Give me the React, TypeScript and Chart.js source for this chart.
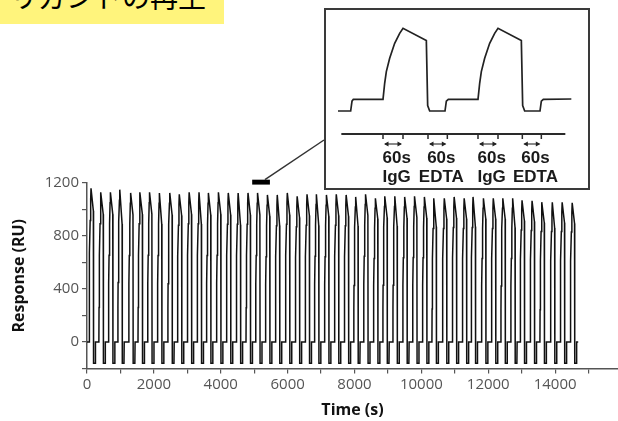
import React, { useEffect, useRef } from "react";
import { Chart, registerables } from "chart.js";

Chart.register(...registerables);

// ---------- text ----------
const headerText = "リガンドの再生";
const xTitle = "Time (s)";
const yTitle = "Response (RU)";

// ---------- axes ----------
const xTickValues = [0, 1000, 2000, 3000, 4000, 5000, 6000, 7000, 8000, 9000, 10000, 11000, 12000, 13000, 14000, 15000];
const xLabelledTicks = [0, 2000, 4000, 6000, 8000, 10000, 12000, 14000];
const yTickValues = [-200, 0, 200, 400, 600, 800, 1000, 1200];
const yLabelledTicks = [0, 400, 800, 1200];
const xMin = 0;
const xMax = 15880;
const yMin = -200;
const yMax = 1200;

// ---------- main sensorgram: one entry per regeneration cycle ----------
const cyclePeakTimes = [
  120, 415, 700, 980, 1305, 1585, 1870, 2165, 2475, 2760,
  3055, 3350, 3630, 3930, 4225, 4520, 4815, 5100, 5395, 5690,
  5990, 6285, 6580, 6860, 7160, 7455, 7750, 8035, 8330, 8625,
  8905, 9205, 9500, 9795, 10090, 10375, 10685, 10980, 11280, 11545,
  11855, 12150, 12435, 12730, 13010, 13310, 13605, 13915, 14210, 14510,
];
const cyclePeakRU = [
  1160, 1130, 1130, 1150, 1125, 1130, 1130, 1125, 1125, 1115,
  1130, 1130, 1125, 1130, 1125, 1125, 1125, 1125, 1110, 1110,
  1125, 1100, 1115, 1115, 1110, 1115, 1110, 1095, 1115, 1085,
  1100, 1100, 1095, 1100, 1095, 1085, 1085, 1095, 1085, 1095,
  1085, 1085, 1085, 1085, 1070, 1065, 1055, 1055, 1055, 1050,
];
const cycleDissocEndRU = [
  990, 965, 965, 890, 960, 965, 965, 890, 960, 955,
  965, 890, 960, 965, 960, 885, 960, 960, 950, 880,
  960, 940, 955, 880, 950, 955, 950, 875, 955, 930,
  940, 875, 935, 940, 935, 870, 930, 935, 930, 870,
  930, 930, 930, 865, 915, 910, 900, 860, 900, 895,
];
// shape of one cycle (seconds relative to the peak)
const riseOffsets = [-60, -55, -50, -40, -25, -10, 0];
const riseFractions = [0, 0.23, 0.39, 0.58, 0.79, 0.93, 1];
const dissocEndOffset = 70;
const regenStartOffset = 76;
const regenEndOffset = 126;
const baselineReturnOffset = 133;
const baselineRU = 0;
const regenRU = -160;
const runStart = 0;
const runEnd = 14690;
// window shown enlarged in the inset (black bar)
const zoomWindow = [4940, 5470];

// ---------- inset (two cycles, enlarged) ----------
const insetTimes = [0, 38, 42, 46, 135, 140, 145, 155, 170, 185, 195, 265, 269, 275, 321, 325, 331, 420, 425, 430, 440, 455, 470, 480, 550, 554, 560, 606, 610, 616, 700];
const insetRU = [-186, -186, -30, 0, 0, 255, 440, 652, 891, 1050, 1130, 934, -100, -186, -186, -30, 0, 0, 255, 440, 652, 891, 1050, 1130, 934, -100, -186, -186, -30, 0, 5];
const insetPhaseTicks = [[135, 195], [270, 328], [420, 480], [553, 610]];
const insetPhaseLabels = ["IgG", "EDTA", "IgG", "EDTA"];
const insetDurationLabel = "60s";
const insetTimelineRange = [10, 682];

// ---------- layout constants ----------
const W = 618;
const H = 421;
const INSET = { left: 324, top: 8, width: 262, height: 178, border: 2 };

function buildMainPoints() {
  const pts: { x: number; y: number }[] = [{ x: runStart, y: baselineRU }];
  cyclePeakTimes.forEach((tp, i) => {
    riseOffsets.forEach((o, k) => {
      pts.push({ x: tp + o, y: baselineRU + riseFractions[k] * (cyclePeakRU[i] - baselineRU) });
    });
    pts.push({ x: tp + dissocEndOffset, y: cycleDissocEndRU[i] });
    pts.push({ x: tp + regenStartOffset, y: regenRU });
    pts.push({ x: tp + regenEndOffset, y: regenRU });
    pts.push({ x: tp + baselineReturnOffset, y: baselineRU });
  });
  pts.push({ x: runEnd, y: baselineRU });
  return pts;
}

export default function App() {
  const mainRef = useRef<HTMLCanvasElement | null>(null);
  const insetRef = useRef<HTMLCanvasElement | null>(null);

  useEffect(() => {
    if (!mainRef.current || !insetRef.current) return;

    const markerPlugin = {
      id: "markerPlugin",
      afterDraw(chart: any) {
        const { ctx, scales } = chart;
        const x = scales.x;
        const y = scales.y;
        const x0 = x.getPixelForValue(zoomWindow[0]);
        const x1 = x.getPixelForValue(zoomWindow[1]);
        const yTop = y.getPixelForValue(1225);
        const yBot = y.getPixelForValue(1188);
        ctx.save();
        ctx.fillStyle = "#000";
        ctx.fillRect(x0, yTop, x1 - x0, yBot - yTop);
        ctx.strokeStyle = "#333";
        ctx.lineWidth = 1.5;
        ctx.beginPath();
        ctx.moveTo(x0 + (x1 - x0) * 0.72, yTop);
        ctx.lineTo(INSET.left, 140);
        ctx.stroke();
        ctx.restore();
      },
    };

    const main = new Chart(mainRef.current, {
      type: "line",
      data: {
        datasets: [
          {
            data: buildMainPoints(),
            borderColor: "#111",
            borderWidth: 1.5,
            pointRadius: 0,
            tension: 0,
            fill: false,
          },
        ],
      },
      options: {
        animation: false,
        responsive: false,
        maintainAspectRatio: false,
        layout: { padding: { top: 183, right: 0, left: 0, bottom: 0 } },
        plugins: { legend: { display: false }, tooltip: { enabled: false } },
        scales: {
          x: {
            type: "linear",
            min: xMin,
            max: xMax,
            afterBuildTicks: (s: any) => {
              s.ticks = xTickValues.map((v) => ({ value: v }));
            },
            afterFit: (s: any) => {
              s.height = 52.5;
            },
            ticks: {
              autoSkip: false,
              maxRotation: 0,
              color: "#555",
              padding: 2,
              font: { family: "'Open Sans', sans-serif", size: 15 },
              callback: (v: any) => (xLabelledTicks.includes(Number(v)) ? String(v) : ""),
            },
            grid: { drawOnChartArea: false, drawTicks: true, tickLength: 5, color: "#555", lineWidth: 1.2 },
            border: { display: true, color: "#555", width: 1.5 },
            title: {
              display: true,
              text: xTitle,
              color: "#111",
              font: { family: "'Open Sans', sans-serif", size: 16, weight: "bold" },
              padding: { top: 0, bottom: 1 },
            },
          },
          y: {
            type: "linear",
            min: yMin,
            max: yMax,
            afterBuildTicks: (s: any) => {
              s.ticks = yTickValues.map((v) => ({ value: v }));
            },
            afterFit: (s: any) => {
              s.width = 87;
            },
            ticks: {
              autoSkip: false,
              color: "#555",
              padding: 3,
              font: { family: "'Open Sans', sans-serif", size: 15 },
              callback: (v: any) => (yLabelledTicks.includes(Number(v)) ? String(v) : ""),
            },
            grid: { drawOnChartArea: false, drawTicks: true, tickLength: 5, color: "#555", lineWidth: 1.2 },
            border: { display: true, color: "#555", width: 1.5 },
            title: {
              display: true,
              text: yTitle,
              color: "#111",
              font: { family: "'Open Sans', sans-serif", size: 16, weight: "bold" },
              padding: { top: 10, bottom: 0 },
            },
          },
        },
      },
      plugins: [markerPlugin],
    } as any);

    const insetOverlay = {
      id: "insetOverlay",
      afterDatasetsDraw(chart: any) {
        const { ctx } = chart;
        const x = chart.scales.x;
        const lineY = 124;
        const tickLen = 5;
        const arrowY = 134;
        const durY = 148;
        const phaseY = 167;
        const labelShift = 11;
        ctx.save();
        ctx.strokeStyle = "#2a2a2a";
        ctx.lineWidth = 2;
        ctx.beginPath();
        ctx.moveTo(x.getPixelForValue(insetTimelineRange[0]), lineY);
        ctx.lineTo(x.getPixelForValue(insetTimelineRange[1]), lineY);
        ctx.stroke();
        insetPhaseTicks.forEach(([a, b], i) => {
          const xa = x.getPixelForValue(a);
          const xb = x.getPixelForValue(b);
          ctx.strokeStyle = "#2a2a2a";
          ctx.lineWidth = 1.5;
          ctx.beginPath();
          ctx.moveTo(xa, lineY);
          ctx.lineTo(xa, lineY + tickLen);
          ctx.moveTo(xb, lineY);
          ctx.lineTo(xb, lineY + tickLen);
          ctx.stroke();
          ctx.lineWidth = 1.1;
          ctx.beginPath();
          ctx.moveTo(xa + 2, arrowY);
          ctx.lineTo(xb - 2, arrowY);
          ctx.stroke();
          ctx.fillStyle = "#222";
          ctx.beginPath();
          ctx.moveTo(xa + 1, arrowY);
          ctx.lineTo(xa + 5.5, arrowY - 2.5);
          ctx.lineTo(xa + 5.5, arrowY + 2.5);
          ctx.closePath();
          ctx.fill();
          ctx.beginPath();
          ctx.moveTo(xb - 1, arrowY);
          ctx.lineTo(xb - 5.5, arrowY - 2.5);
          ctx.lineTo(xb - 5.5, arrowY + 2.5);
          ctx.closePath();
          ctx.fill();
          const xc = x.getPixelForValue((a + b) / 2 + labelShift);
          ctx.font = "bold 17px 'Liberation Sans', Arial, sans-serif";
          ctx.textAlign = "center";
          ctx.textBaseline = "middle";
          ctx.fillStyle = "#1a1a1a";
          ctx.fillText(insetDurationLabel, xc, durY);
          ctx.fillText(insetPhaseLabels[i], xc, phaseY);
        });
        ctx.restore();
      },
    };

    const inset = new Chart(insetRef.current, {
      type: "line",
      data: {
        datasets: [
          {
            data: insetTimes.map((t, i) => ({ x: t, y: insetRU[i] })),
            borderColor: "#222",
            borderWidth: 1.7,
            pointRadius: 0,
            tension: 0,
            fill: false,
          },
        ],
      },
      options: {
        animation: false,
        responsive: false,
        maintainAspectRatio: false,
        layout: { padding: { left: 12, right: 16, top: 10, bottom: 8 } },
        plugins: { legend: { display: false }, tooltip: { enabled: false } },
        scales: {
          x: { type: "linear", min: 0, max: 702, display: false },
          y: { type: "linear", min: -1284, max: 1262, display: false },
        },
      },
      plugins: [insetOverlay],
    } as any);

    return () => {
      main.destroy();
      inset.destroy();
    };
  }, []);

  return (
    <div style={{ position: "absolute", left: 0, top: 0, width: W, height: H, overflow: "hidden", background: "#fff" }}>
      <canvas ref={mainRef} width={W} height={H} style={{ position: "absolute", left: 0, top: 0, width: W, height: H }} />
      <div
        style={{
          position: "absolute",
          left: 0,
          top: 0,
          width: 224,
          height: 24,
          background: "#fff47c",
          overflow: "hidden",
        }}
      >
        <span
          style={{
            position: "absolute",
            left: 10,
            top: -18,
            fontFamily: "'Noto Sans CJK JP', sans-serif",
            fontSize: 28,
            lineHeight: "28px",
            color: "#000",
            whiteSpace: "nowrap",
          }}
        >
          {headerText}
        </span>
      </div>
      <div
        style={{
          position: "absolute",
          left: INSET.left,
          top: INSET.top,
          width: INSET.width,
          height: INSET.height,
          border: `${INSET.border}px solid #3a3a3a`,
          background: "#fff",
        }}
      >
        <canvas
          ref={insetRef}
          width={INSET.width}
          height={INSET.height}
          style={{ position: "absolute", left: 0, top: 0, width: INSET.width, height: INSET.height }}
        />
      </div>
    </div>
  );
}
